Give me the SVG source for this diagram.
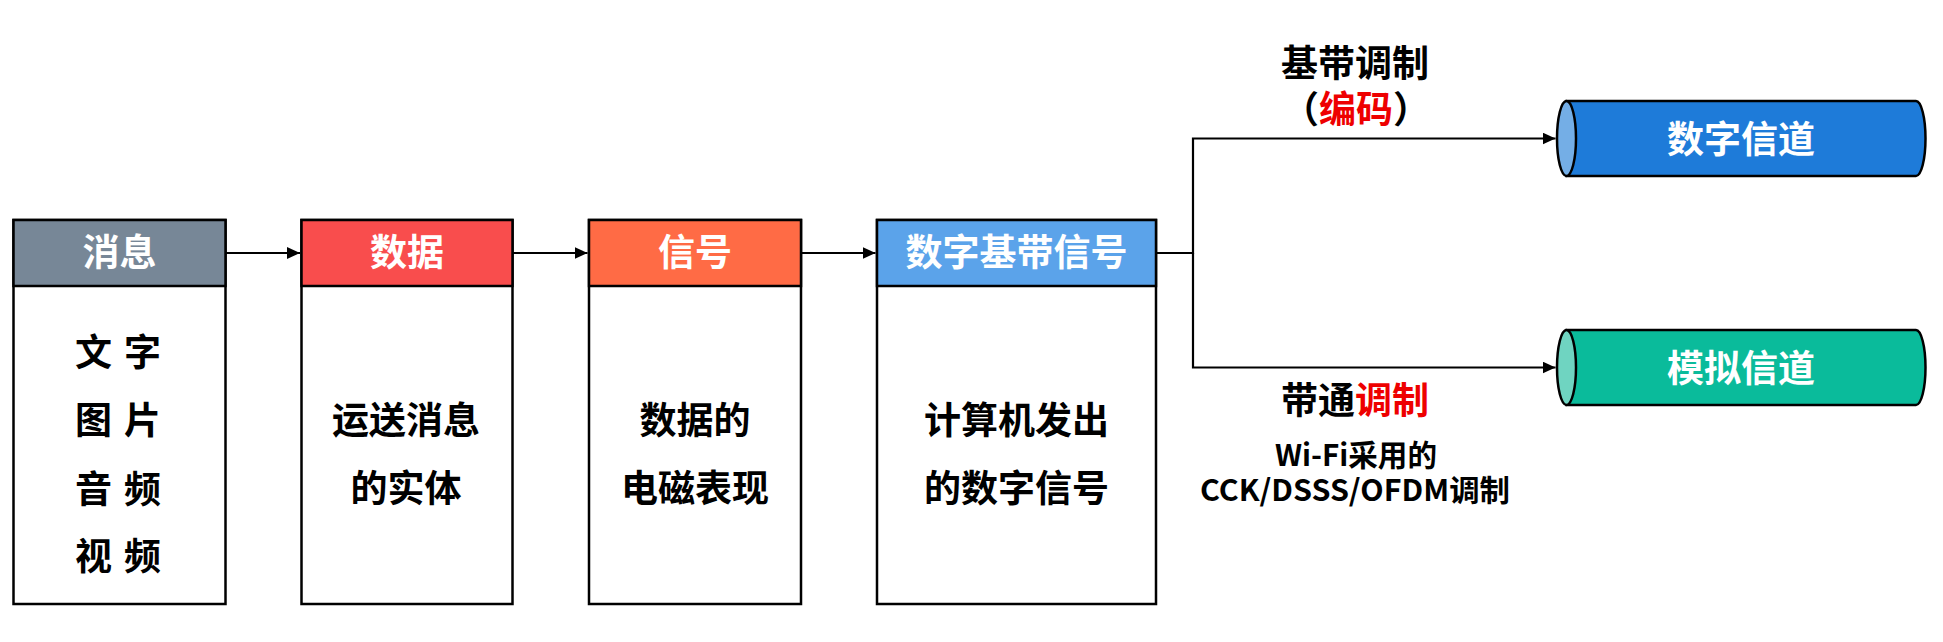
<svg xmlns="http://www.w3.org/2000/svg" width="1943" height="642" viewBox="0 0 1943 642">
<style>
  text { font-family: "Noto Sans CJK SC", "Noto Sans", sans-serif; font-weight: bold; }
  .hd { fill: #ffffff; font-size: 37px; text-anchor: middle; }
  .bd { fill: #000000; font-size: 37px; text-anchor: middle; }
  .bs { fill: #000000; font-size: 37px; text-anchor: start; }
  .box { fill: #ffffff; stroke: #000000; stroke-width: 2.5; }
  .line { fill: none; stroke: #000000; stroke-width: 2.2; }
  .lbl { fill: #000000; font-size: 37px; text-anchor: middle; }
  .lbs { fill: #000000; font-size: 37px; text-anchor: start; }
  .sm { fill: #000000; font-size: 30px; text-anchor: middle; }
  .red { fill: #ee0000; }
  .cyl { stroke: #000000; stroke-width: 2.5; }
</style>
<defs>
  <marker id="arr" markerWidth="14" markerHeight="12" refX="13" refY="6" orient="auto" markerUnits="userSpaceOnUse">
    <path d="M0,0 L13,6 L0,12 Z" fill="#000000"/>
  </marker>
</defs>
<rect width="1943" height="642" fill="#ffffff"/>

<g id="connectors">
  <line class="line" x1="226" y1="253" x2="300" y2="253" marker-end="url(#arr)"/>
  <line class="line" x1="513" y1="253" x2="587.5" y2="253" marker-end="url(#arr)"/>
  <line class="line" x1="801" y1="253" x2="875.5" y2="253" marker-end="url(#arr)"/>
  <polyline class="line" points="1156,253 1193,253 1193,138.5 1555.5,138.5" marker-end="url(#arr)"/>
  <polyline class="line" points="1193,253 1193,367.5 1555.5,367.5" marker-end="url(#arr)"/>
</g>

<g id="node-xiaoxi">
  <rect class="box" x="13.5" y="220" width="212" height="384"/>
  <rect x="13.5" y="220" width="212" height="66" fill="#778797" stroke="#000" stroke-width="2.5"/>
  <text class="hd" x="119.5" y="266">消息</text>
  <text class="bs" x="75 124" y="366">文字</text>
  <text class="bs" x="75 124" y="434">图片</text>
  <text class="bs" x="75 124" y="503">音频</text>
  <text class="bs" x="75 124" y="570">视频</text>
</g>

<g id="node-shuju">
  <rect class="box" x="301.5" y="220" width="211" height="384"/>
  <rect x="301.5" y="220" width="211" height="66" fill="#f94d4d" stroke="#000" stroke-width="2.5"/>
  <text class="hd" x="407" y="266">数据</text>
  <text class="bd" x="406" y="434">运送消息</text>
  <text class="bd" x="406" y="502">的实体</text>
</g>

<g id="node-xinhao">
  <rect class="box" x="589" y="220" width="212" height="384"/>
  <rect x="589" y="220" width="212" height="66" fill="#ff6b45" stroke="#000" stroke-width="2.5"/>
  <text class="hd" x="695" y="266">信号</text>
  <text class="bd" x="695" y="434">数据的</text>
  <text class="bd" x="695" y="502">电磁表现</text>
</g>

<g id="node-jidai">
  <rect class="box" x="877" y="220" width="279" height="384"/>
  <rect x="877" y="220" width="279" height="66" fill="#5ba3ea" stroke="#000" stroke-width="2.5"/>
  <text class="hd" x="1016.5" y="266">数字基带信号</text>
  <text class="bd" x="1016.5" y="434">计算机发出</text>
  <text class="bd" x="1016.5" y="502">的数字信号</text>
</g>

<g id="node-digital-channel">
  <path class="cyl" d="M1566.5,101 L1916,101 A9.5,37.5 0 0 1 1916,176 L1566.5,176 Z" fill="#1e7bd9"/>
  <ellipse class="cyl" cx="1566.5" cy="138.5" rx="9.5" ry="37.5" fill="#74aee6"/>
  <text class="hd" x="1741" y="153">数字信道</text>
</g>

<g id="node-analog-channel">
  <path class="cyl" d="M1566.5,330 L1916,330 A9.5,37.5 0 0 1 1916,405 L1566.5,405 Z" fill="#0abb9b"/>
  <ellipse class="cyl" cx="1566.5" cy="367.5" rx="9.5" ry="37.5" fill="#6fd4c1"/>
  <text class="hd" x="1741" y="382">模拟信道</text>
</g>

<g id="labels">
  <text class="lbl" x="1355" y="77">基带调制</text>
  <text class="lbs" x="1282" y="123">（</text>
  <text class="lbs red" x="1319" y="123">编码</text>
  <text class="lbs" x="1393" y="123">）</text>
  <text class="lbs" x="1281" y="414">带通</text>
  <text class="lbs red" x="1355" y="414">调制</text>
  <text class="sm" x="1356" y="466" textLength="162" lengthAdjust="spacingAndGlyphs">Wi-Fi采用的</text>
  <text class="sm" x="1355" y="501" textLength="310" lengthAdjust="spacingAndGlyphs">CCK/DSSS/OFDM调制</text>
</g>
</svg>
